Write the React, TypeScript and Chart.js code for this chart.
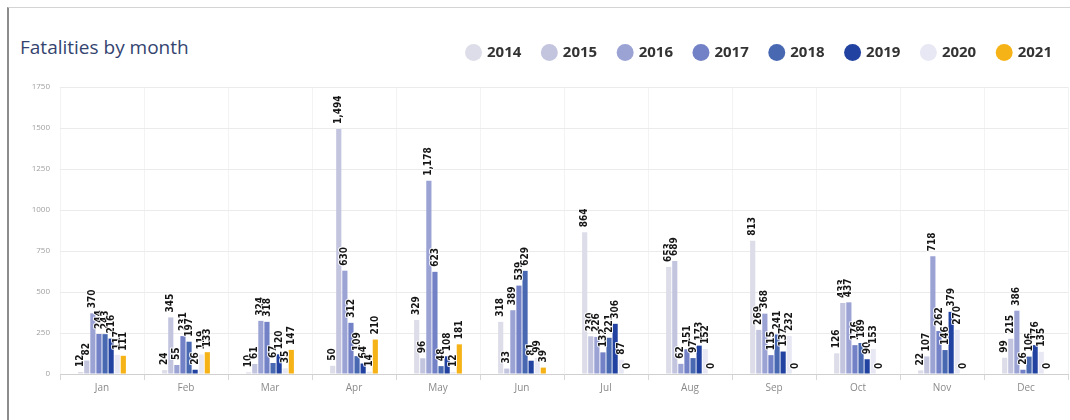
import React, { useEffect, useRef } from 'react';
import { Chart, registerables } from 'chart.js';
Chart.register(...registerables);

const months = ['Jan', 'Feb', 'Mar', 'Apr', 'May', 'Jun', 'Jul', 'Aug', 'Sep', 'Oct', 'Nov', 'Dec'];
const years = ['2014', '2015', '2016', '2017', '2018', '2019', '2020', '2021'];
const v2014 = [12, 24, 10, 50, 329, 318, 864, 653, 813, 126, 22, 99];
const v2015 = [82, 345, 61, 1494, 96, 33, 230, 689, 269, 433, 107, 215];
const v2016 = [370, 55, 324, 630, 1178, 389, 226, 62, 368, 437, 718, 386];
const v2017 = [244, 231, 318, 312, 623, 539, 132, 151, 115, 176, 262, 26];
const v2018 = [243, 197, 67, 109, 48, 629, 221, 97, 241, 189, 146, 106];
const v2019 = [216, 26, 120, 64, 108, 81, 306, 173, 137, 90, 379, 176];
const v2020 = [117, 119, 35, 14, 12, 99, 87, 152, 232, 153, 270, 135];
const v2021 = [111, 133, 147, 210, 181, 39, 0, 0, 0, 0, 0, 0];
const seriesValues = [v2014, v2015, v2016, v2017, v2018, v2019, v2020, v2021];
const seriesColors = ['#dcdde8', '#c3c5df', '#9ba3d5', '#7381c6', '#4868b2', '#2142a0', '#e7e8f3', '#f6b318'];
const yTicks = [0, 250, 500, 750, 1000, 1250, 1500, 1750];

const labelPlugin = {
  id: 'barLabels',
  afterDatasetsDraw(chart: any) {
    const ctx = chart.ctx;
    ctx.save();
    ctx.font = 'bold 10px "Liberation Sans Narrow", "DejaVu Sans Condensed", "Liberation Sans", sans-serif';
    ctx.textBaseline = 'middle';
    ctx.textAlign = 'left';
    ctx.lineJoin = 'round';
    chart.data.datasets.forEach((ds: any, di: number) => {
      const meta = chart.getDatasetMeta(di);
      if (meta.hidden) return;
      meta.data.forEach((el: any, i: number) => {
        const v = ds.data[i];
        const text = Number(v).toLocaleString('en-US');
        ctx.save();
        ctx.translate(el.x, el.y - 5);
        ctx.rotate(-Math.PI / 2);
        ctx.strokeStyle = 'rgba(255,255,255,0.85)';
        ctx.lineWidth = 2;
        ctx.strokeText(text, 0, 0);
        ctx.fillStyle = '#151515';
        ctx.fillText(text, 0, 0);
        ctx.restore();
      });
    });
    ctx.restore();
  },
};

const legendSpacer = {
  id: 'legendSpacer',
  beforeInit(chart: any) {
    const legend = chart.legend;
    if (!legend) return;
    const origFit = legend.fit;
    legend.fit = function () {
      origFit.call(this);
      this.height += 17;
    };
    const origDraw = legend.draw;
    legend.draw = function () {
      const ctx = this.ctx;
      ctx.save();
      ctx.translate(6, 0);
      origDraw.call(this);
      ctx.restore();
    };
  },
};

export default function App() {
  const ref = useRef<HTMLCanvasElement | null>(null);
  useEffect(() => {
    if (!ref.current) return;
    const chart = new Chart(ref.current, {
      type: 'bar',
      data: {
        labels: months,
        datasets: years.map((y, i) => ({
          label: y,
          data: seriesValues[i],
          backgroundColor: seriesColors[i],
          borderWidth: 0,
          categoryPercentage: 0.58,
          barPercentage: 0.85,
        })),
      },
      options: {
        animation: false,
        responsive: true,
        maintainAspectRatio: false,
        layout: { padding: { top: 15, left: 0, right: 2, bottom: 24 } },
        plugins: {
          legend: {
            position: 'top',
            align: 'end',
            labels: {
              usePointStyle: true,
              pointStyle: 'circle',
              boxWidth: 12,
              boxHeight: 12,
              padding: 22,
              color: '#333',
              font: { family: '"Open Sans", sans-serif', size: 15, weight: 'bold' },
            },
          },
          tooltip: { enabled: false },
        },
        scales: {
          x: {
            grid: { color: '#f3f3f3', tickLength: 6, tickColor: '#d8d8d8', offset: true },
            border: { color: '#d0d0d0' },
            ticks: { color: '#8a8a8a', font: { family: '"Open Sans", sans-serif', size: 10 }, padding: 2 },
          },
          y: {
            min: 0,
            max: 1750,
            afterBuildTicks: (scale: any) => {
              scale.ticks = yTicks.map((v) => ({ value: v }));
            },
            afterFit: (scale: any) => {
              scale.width = 51;
            },
            grid: { color: '#ebebeb', drawTicks: false },
            border: { display: false },
            ticks: {
              color: '#a0a0a0',
              padding: 10,
              font: { family: '"Open Sans", sans-serif', size: 8 },
              callback: (v: any) => String(v),
            },
          },
        },
      },
      plugins: [labelPlugin, legendSpacer],
    });
    return () => chart.destroy();
  }, []);

  return (
    <div style={{ position: 'fixed', left: 0, top: 0, width: 1070, height: 420, background: '#fff', overflow: 'hidden' }}>
      <div
        style={{
          position: 'absolute',
          left: 7,
          top: 7,
          width: 1063,
          height: 413,
          borderLeft: '2px solid #8c8c8c',
          borderTop: '1px solid #d4d4d4',
          boxSizing: 'border-box',
        }}
      >
        <div
          style={{
            position: 'absolute',
            left: 11,
            top: 26,
            fontFamily: '"Open Sans", sans-serif',
            fontSize: 19,
            color: '#34446f',
            whiteSpace: 'nowrap',
          }}
        >
          Fatalities by month
        </div>
        <div style={{ position: 'absolute', left: 0, top: 0, width: 1061, height: 412 }}>
          <canvas ref={ref} />
        </div>
      </div>
    </div>
  );
}
